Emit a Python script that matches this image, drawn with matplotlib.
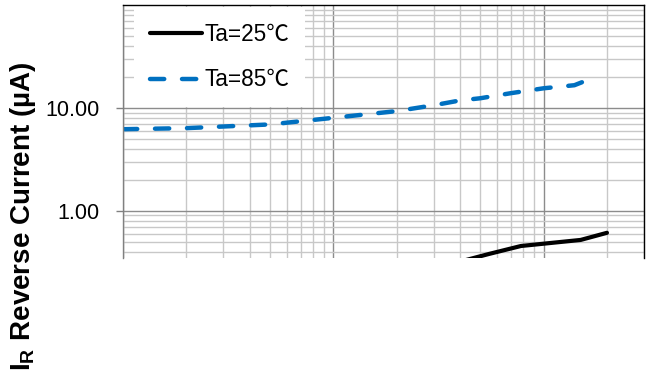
import matplotlib
matplotlib.use("Agg")
import matplotlib.pyplot as plt
from matplotlib.ticker import FixedLocator, LogLocator, NullFormatter, FixedFormatter

plt.rcParams['font.family'] = ['Liberation Sans', 'Noto Sans CJK SC', 'DejaVu Sans']
plt.rcParams['mathtext.fontset'] = 'custom'
plt.rcParams['mathtext.bf'] = 'Liberation Sans:bold'
plt.rcParams['mathtext.rm'] = 'Liberation Sans'

# Data (reverse voltage V, reverse current µA)
v_25 = [40, 55, 78, 150, 200]
i_25 = [0.32, 0.38, 0.454, 0.52, 0.61]
v_85 = [1, 2, 5, 10, 20, 30, 40, 50, 70, 100, 140, 170]
i_85 = [6.2, 6.35, 6.9, 8.0, 9.3, 10.6, 11.8, 12.4, 13.9, 15.5, 16.6, 19.4]
label_25 = "Ta=25"
label_85 = "Ta=85"
unit = "℃"
y_ticks = [1, 10]
y_ticklabels = ["1.00", "10.00"]
y_label = r"$\mathbf{I}_{\mathbf{R}}$ Reverse Current (µA)"

W, H = 651, 380
fig = plt.figure(figsize=(W / 100, H / 100), dpi=100)
l, r, t, b = 123, 644, 5, 258
ax = fig.add_axes([l / W, 1 - b / H, (r - l) / W, (b - t) / H])
ax.set_xscale('log')
ax.set_yscale('log')
ax.set_xlim(1, 300)
ax.set_ylim(0.347, 100)

ax.plot(v_25, i_25, color='black', lw=3.0, solid_capstyle='round', label=label_25 + unit)
ax.plot(v_85, i_85, color='#0070C0', lw=3.2, dashes=(3.2, 4.0), dash_capstyle='round', label=label_85 + unit)

ax.xaxis.set_major_locator(LogLocator(base=10, numticks=10))
ax.xaxis.set_minor_locator(LogLocator(base=10, subs=range(2, 10), numticks=20))
ax.xaxis.set_major_formatter(NullFormatter())
ax.xaxis.set_minor_formatter(NullFormatter())
ax.tick_params(axis='x', which='both', length=0)

ax.yaxis.set_major_locator(FixedLocator(y_ticks))
ax.yaxis.set_major_formatter(FixedFormatter(y_ticklabels))
ax.yaxis.set_minor_locator(LogLocator(base=10, subs=range(2, 10), numticks=20))
ax.yaxis.set_minor_formatter(NullFormatter())
ax.tick_params(axis='y', which='major', length=5, width=1, color='#808080', pad=12, labelsize=15.5, labelcolor='black')
ax.tick_params(axis='y', which='minor', length=0)

ax.grid(True, which='major', color='#8c8c8c', lw=1.0)
ax.grid(True, which='minor', color='#c8c8c8', lw=1.0)
ax.set_axisbelow(True)

ax.spines['bottom'].set_visible(False)
ax.spines['left'].set_color('#808080')
for s in ['top', 'right']:
    ax.spines[s].set_color('black')
for s in ax.spines.values():
    s.set_linewidth(1.0)

leg = ax.legend(loc='upper left', bbox_to_anchor=((134 - l) / (r - l), (b - 7) / (b - t)),
                frameon=True, fancybox=False,
                edgecolor='none', facecolor='white', framealpha=1, fontsize=16.3,
                handlelength=2.3, handletextpad=0.12, labelspacing=1.0, borderpad=0.7,
                borderaxespad=0.0)

fig.text(23 / W, 1 - 216 / H, y_label, rotation=90, ha='center', va='center',
         fontsize=20, fontweight='bold')

fig.savefig('out.png', dpi=100)
